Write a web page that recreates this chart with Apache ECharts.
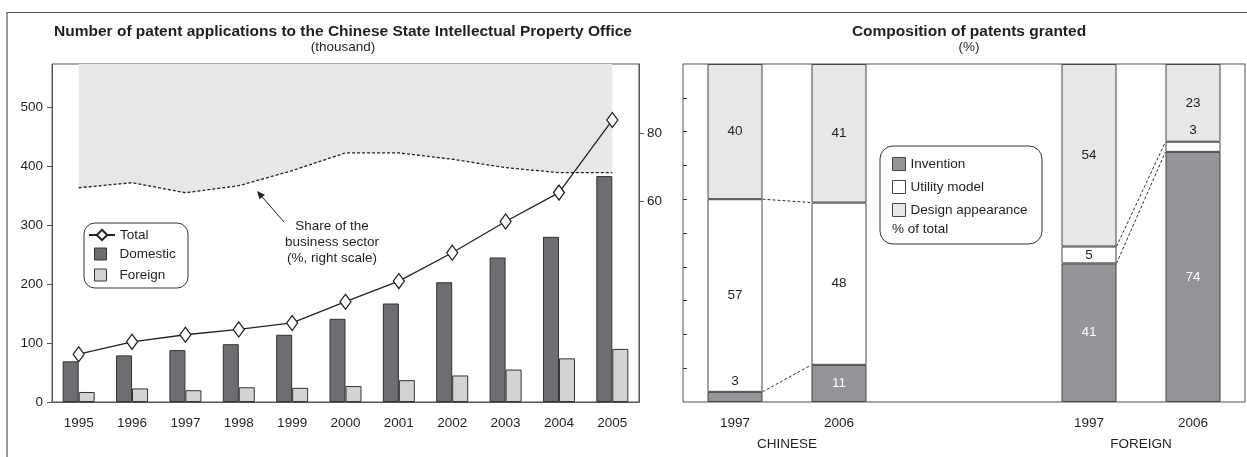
<!DOCTYPE html>
<html>
<head>
<meta charset="utf-8">
<title>Patent applications and grants</title>
<script src="https://cdn.jsdelivr.net/npm/echarts@6/dist/echarts.min.js"></script>
<style>
html, body { margin: 0; padding: 0; background: #fff; }
#chart { width: 1247px; height: 457px; }
</style>
</head>
<body>
<div id="chart"></div>
<script>
// left panel: applications (thousand)
const years = ['1995', '1996', '1997', '1998', '1999', '2000', '2001', '2002', '2003', '2004', '2005'];
const totalApps = [81, 102, 114, 123, 134, 170, 205, 253, 306, 355, 478];
const domesticApps = [69, 79, 88, 98, 114, 141, 167, 203, 245, 280, 383];
const foreignApps = [17, 23, 20, 25, 24, 27, 37, 45, 55, 74, 90];
const businessShare = [63.9, 65.4, 62.4, 64.5, 69.0, 74.3, 74.3, 72.4, 69.9, 68.4, 68.4];
const leftTicks = [0, 100, 200, 300, 400, 500];
const shareTicks = [60, 80];

// right panel: composition of patents granted (%)
const grantYears = ['1997', '2006'];
const chineseInvention = [3, 11];
const chineseUtility = [57, 48];
const chineseDesign = [40, 41];
const foreignInvention = [41, 74];
const foreignUtility = [5, 3];
const foreignDesign = [54, 23];
const pctTicks = [10, 20, 30, 40, 50, 60, 70, 80, 90];

const FONT = 'Arial, "Liberation Sans", sans-serif';
const INK = '#231f20';
const AXIS = '#555';

const chart = echarts.init(document.getElementById('chart'));

// label inside segment, or above it when the segment is too thin
function segData(arr, light) {
  return arr.map(v => ({
    value: v,
    label: v < 4
      ? { position: 'top', distance: 4, color: INK }
      : { position: 'inside', color: light ? '#fff' : INK }
  }));
}

function stackSeries(name, arr, color, light, stack, axisIdx) {
  return {
    name: name,
    type: 'bar',
    stack: stack,
    xAxisIndex: axisIdx,
    yAxisIndex: axisIdx + 1,
    barWidth: 55,
    data: segData(arr, light),
    itemStyle: { color: color, borderColor: '#444', borderWidth: 1 },
    label: { show: true, fontSize: 13.5, fontFamily: FONT },
    emphasis: { disabled: true }
  };
}

const sqIcon = 'path://M0,0M26,13M6,0.5H18V12.5H6Z';
const txt = { fontSize: 13.5, color: INK, fontFamily: FONT };

const option = {
  animation: false,
  textStyle: { fontFamily: FONT, color: INK },
  title: [
    {
      text: 'Number of patent applications to the Chinese State Intellectual Property Office',
      subtext: '(thousand)',
      left: 338, top: 19, textAlign: 'center', itemGap: 0,
      textStyle: { fontSize: 15.5, fontWeight: 'bold', color: INK, fontFamily: FONT },
      subtextStyle: txt
    },
    {
      text: 'Composition of patents granted',
      subtext: '(%)',
      left: 964, top: 19, textAlign: 'center', itemGap: 0,
      textStyle: { fontSize: 15.5, fontWeight: 'bold', color: INK, fontFamily: FONT },
      subtextStyle: txt
    }
  ],
  legend: [
    {
      data: ['Total'],
      orient: 'vertical', left: 88, top: 228, padding: 0,
      itemWidth: 26, itemHeight: 13,
      textStyle: txt,
      selectedMode: false
    },
    {
      data: [{ name: 'Domestic', icon: sqIcon }, { name: 'Foreign', icon: sqIcon }],
      orient: 'vertical', left: 88, top: 247, itemGap: 7, padding: 0,
      itemWidth: 26, itemHeight: 13,
      itemStyle: { borderColor: '#333', borderWidth: 1 },
      textStyle: txt,
      selectedMode: false
    },
    {
      data: ['Invention', 'Utility model', 'Design appearance'],
      orient: 'vertical', left: 892, top: 157, itemGap: 9, padding: 0,
      itemWidth: 13, itemHeight: 13, icon: 'rect',
      itemStyle: { borderColor: '#444', borderWidth: 1 },
      textStyle: txt,
      selectedMode: false
    }
  ],
  grid: [
    { left: 52, top: 64, width: 587, height: 338, show: true, borderColor: AXIS, borderWidth: 1 },
    { left: 683, top: 64, width: 562, height: 338, show: true, borderColor: AXIS, borderWidth: 1 },
    { left: 683, top: 64, width: 208, height: 338 },
    { left: 1037, top: 64, width: 208, height: 338 }
  ],
  xAxis: [
    {
      type: 'category', gridIndex: 0, data: years, boundaryGap: true,
      axisLine: { lineStyle: { color: AXIS, width: 1 } },
      axisTick: { show: false },
      axisLabel: Object.assign({ margin: 14 }, txt)
    },
    { type: 'value', gridIndex: 1, show: false, min: 0, max: 1 },
    {
      type: 'category', gridIndex: 2, data: grantYears,
      axisLine: { show: false }, axisTick: { show: false },
      axisLabel: Object.assign({ margin: 14 }, txt),
      name: 'CHINESE', nameLocation: 'middle', nameGap: 35,
      nameTextStyle: txt
    },
    {
      type: 'category', gridIndex: 3, data: grantYears,
      axisLine: { show: false }, axisTick: { show: false },
      axisLabel: Object.assign({ margin: 14 }, txt),
      name: 'FOREIGN', nameLocation: 'middle', nameGap: 35,
      nameTextStyle: txt
    }
  ],
  yAxis: [
    {
      type: 'value', gridIndex: 0, min: 0, max: 573, interval: 100,
      splitLine: { show: false },
      axisLine: { show: true, lineStyle: { color: AXIS, width: 1 } },
      axisTick: { show: true, length: 5, customValues: leftTicks, lineStyle: { color: AXIS } },
      axisLabel: Object.assign({ margin: 9, customValues: leftTicks }, txt)
    },
    {
      type: 'value', gridIndex: 0, position: 'right', min: 0, max: 100.8,
      splitLine: { show: false },
      axisLine: { show: true, lineStyle: { color: AXIS, width: 1 } },
      axisTick: { show: true, length: 5, customValues: shareTicks, lineStyle: { color: AXIS } },
      axisLabel: Object.assign({ margin: 8, customValues: shareTicks }, txt)
    },
    {
      type: 'value', gridIndex: 1, min: 0, max: 100, interval: 10,
      splitLine: { show: false },
      axisLine: { show: false },
      axisTick: { show: true, inside: true, length: 4, customValues: pctTicks, lineStyle: { color: '#333' } },
      axisLabel: { show: false }
    },
    { type: 'value', gridIndex: 2, min: 0, max: 100, show: false },
    { type: 'value', gridIndex: 3, min: 0, max: 100, show: false }
  ],
  series: [
    {
      name: 'Share of the business sector',
      type: 'line', xAxisIndex: 0, yAxisIndex: 1, z: 1,
      data: businessShare, symbol: 'none',
      lineStyle: { color: '#222', width: 1.3, type: [3, 2] },
      areaStyle: { color: '#e6e7e8', opacity: 1, origin: 'end' },
      emphasis: { disabled: true }
    },
    {
      name: 'Domestic', type: 'bar', xAxisIndex: 0, yAxisIndex: 0,
      data: domesticApps, barWidth: 16, barGap: '0%',
      itemStyle: { color: '#6d6e71', borderColor: '#333', borderWidth: 1 },
      emphasis: { disabled: true }
    },
    {
      name: 'Foreign', type: 'bar', xAxisIndex: 0, yAxisIndex: 0,
      data: foreignApps, barWidth: 16,
      itemStyle: { color: '#d1d3d4', borderColor: '#333', borderWidth: 1 },
      emphasis: { disabled: true }
    },
    {
      name: 'Total', type: 'line', xAxisIndex: 0, yAxisIndex: 0, z: 5,
      data: totalApps, symbol: 'diamond', symbolSize: [11, 15],
      lineStyle: { color: '#222', width: 1.3 },
      itemStyle: { color: '#fff', borderColor: '#222', borderWidth: 1.3 },
      emphasis: { disabled: true }
    },
    stackSeries('Invention', chineseInvention, '#939598', true, 'cn', 2),
    stackSeries('Utility model', chineseUtility, '#ffffff', false, 'cn', 2),
    stackSeries('Design appearance', chineseDesign, '#e6e7e8', false, 'cn', 2),
    stackSeries('Invention', foreignInvention, '#939598', true, 'fr', 3),
    stackSeries('Utility model', foreignUtility, '#ffffff', false, 'fr', 3),
    stackSeries('Design appearance', foreignDesign, '#e6e7e8', false, 'fr', 3)
  ]
};

chart.setOption(option);

// dotted connectors between segment boundaries of neighbouring bars
function connectors(axisIdx, inv, uti) {
  const half = 55 / 2;
  const out = [];
  const bounds = [[inv[0], inv[1]], [inv[0] + uti[0], inv[1] + uti[1]]];
  bounds.forEach(b => {
    const p0 = chart.convertToPixel({ xAxisIndex: axisIdx, yAxisIndex: axisIdx + 1 }, [grantYears[0], b[0]]);
    const p1 = chart.convertToPixel({ xAxisIndex: axisIdx, yAxisIndex: axisIdx + 1 }, [grantYears[1], b[1]]);
    out.push({
      type: 'line', silent: true, z: 10,
      shape: { x1: p0[0] + half, y1: p0[1], x2: p1[0] - half, y2: p1[1] },
      style: { stroke: '#333', lineWidth: 1, lineDash: [3, 2] }
    });
  });
  return out;
}

// arrow for the annotation
const tail = [284, 222], head = [257, 191];
const dx = head[0] - tail[0], dy = head[1] - tail[1];
const len = Math.sqrt(dx * dx + dy * dy);
const ux = dx / len, uy = dy / len;
const ah = 8, aw = 3.5;
const base = [head[0] - ux * ah, head[1] - uy * ah];

const graphics = [
  {
    type: 'polyline', silent: true,
    shape: { points: [[7, 457], [7, 12.5], [1247, 12.5]] },
    style: { stroke: AXIS, lineWidth: 1.2, fill: null }
  },
  // legend frames sit under the legend items (legend z is 4)
  {
    type: 'rect', silent: true, z: 3,
    shape: { x: 84, y: 223, width: 104, height: 65, r: 11 },
    style: { stroke: '#333', lineWidth: 1, fill: '#fff' }
  },
  {
    type: 'rect', silent: true, z: 3,
    shape: { x: 880, y: 146, width: 162, height: 98, r: 13 },
    style: { stroke: '#333', lineWidth: 1, fill: '#fff' }
  },
  {
    type: 'text', silent: true, z: 11,
    x: 892, y: 222,
    style: { text: '% of total', fill: INK, font: '13.5px ' + FONT }
  },
  {
    type: 'text', silent: true, z: 11,
    x: 332, y: 218,
    style: {
      text: 'Share of the\nbusiness sector\n(%, right scale)',
      fill: INK, font: '13.5px ' + FONT, align: 'center', lineHeight: 16
    }
  },
  {
    type: 'line', silent: true, z: 11,
    shape: { x1: tail[0], y1: tail[1], x2: base[0], y2: base[1] },
    style: { stroke: '#222', lineWidth: 1 }
  },
  {
    type: 'polygon', silent: true, z: 11,
    shape: {
      points: [
        head,
        [base[0] - uy * aw, base[1] + ux * aw],
        [base[0] + uy * aw, base[1] - ux * aw]
      ]
    },
    style: { fill: '#222' }
  }
].concat(connectors(2, chineseInvention, chineseUtility))
 .concat(connectors(3, foreignInvention, foreignUtility));

chart.setOption({ graphic: graphics });
</script>
</body>
</html>
